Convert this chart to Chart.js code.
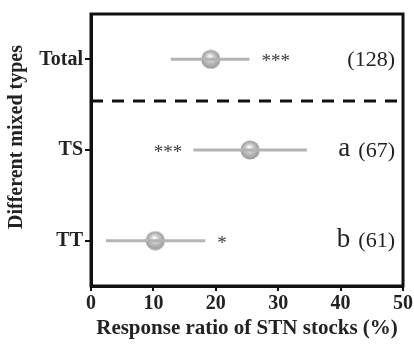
<!DOCTYPE html>
<html>
<head>
<meta charset="utf-8">
<script src="https://cdn.jsdelivr.net/npm/chart.js@4"></script>
<style>
  html, body { margin: 0; padding: 0; background: #fff; }
  #wrap { width: 414px; height: 344px; }
</style>
</head>
<body>
<div id="wrap"><canvas id="forest"></canvas></div>
<script>
    "use strict";

    // Data
    var groups = ["Total", "TS", "TT"];
    var means = [19.2, 25.5, 10.3];
    var lower = [12.8, 16.4, 2.4];
    var upper = [25.4, 34.6, 18.3];
    var sigMarks = ["***", "***", "*"];
    var sigSide = ["right", "left", "right"];
    var letters = ["", "a", "b"];
    var counts = ["(128)", "(67)", "(61)"];
    var xTicks = [0, 10, 20, 30, 40, 50];
    var dividerAt = 1.46;

    var serif = "'Liberation Serif', 'Times New Roman', serif";

    // Gray sphere marker
    var sphere = document.createElement("canvas");
    sphere.width = 20;
    sphere.height = 20;
    (function () {
        var c = sphere.getContext("2d");
        var g = c.createRadialGradient(9, 7, 0.5, 10, 10, 10);
        g.addColorStop(0, "#ffffff");
        g.addColorStop(0.3, "#d4d4d4");
        g.addColorStop(0.75, "#a9a9a9");
        g.addColorStop(1, "#999999");
        c.fillStyle = g;
        c.beginPath();
        c.arc(10, 10, 9.6, 0, Math.PI * 2);
        c.fill();
    })();

    var datasets = [];

    // Divider between total and groups
    datasets.push({
        type: "line",
        data: [{ x: 0, y: dividerAt }, { x: 50, y: dividerAt }],
        borderColor: "#111",
        borderWidth: 3,
        borderDash: [12, 9],
        pointRadius: 0
    });

    // Confidence intervals
    groups.forEach(function (name, i) {
        datasets.push({
            type: "line",
            data: [{ x: lower[i], y: i + 1 }, { x: upper[i], y: i + 1 }],
            borderColor: "#b3b3b3",
            borderWidth: 3,
            pointRadius: 0
        });
    });

    // Means
    datasets.push({
        type: "scatter",
        data: means.map(function (m, i) { return { x: m, y: i + 1 }; }),
        pointStyle: sphere,
        pointRadius: 10
    });

    // Frame, y title and text annotations
    var annotate = {
        id: "annotate",
        afterDatasetsDraw: function (chart) {
            var ctx = chart.ctx;
            var a = chart.chartArea;
            var xs = chart.scales.x;
            var ys = chart.scales.y;
            ctx.save();
            ctx.strokeStyle = "#111";
            ctx.lineWidth = 3;
            ctx.strokeRect(a.left, a.top, a.right - a.left, a.bottom - a.top);

            // y axis title
            ctx.save();
            ctx.translate(17, 137);
            ctx.rotate(-Math.PI / 2);
            ctx.fillStyle = "#222";
            ctx.font = "bold 20px " + serif;
            ctx.textAlign = "center";
            ctx.textBaseline = "middle";
            ctx.fillText("Different mixed types", 0, 0);
            ctx.restore();

            ctx.textBaseline = "middle";
            groups.forEach(function (name, i) {
                var y = ys.getPixelForValue(i + 1);
                ctx.fillStyle = "#3a3a3a";
                ctx.font = "19px " + serif;
                if (sigSide[i] === "right") {
                    ctx.textAlign = "left";
                    ctx.fillText(sigMarks[i], xs.getPixelForValue(upper[i]) + 12, y + 3);
                } else {
                    ctx.textAlign = "right";
                    ctx.fillText(sigMarks[i], xs.getPixelForValue(lower[i]) - 11, y + 3);
                }
                ctx.fillStyle = "#222";
                ctx.textAlign = "right";
                ctx.font = "22px " + serif;
                var right = a.right - 8;
                ctx.fillText(counts[i], right, y + 1);
                if (letters[i]) {
                    var w = ctx.measureText(counts[i]).width;
                    ctx.font = "27px " + serif;
                    ctx.fillText(letters[i], right - w - 8, y - 1);
                }
            });
            ctx.restore();
        }
    };

    new Chart(document.getElementById("forest"), {
        data: { datasets: datasets },
        options: {
            responsive: true,
            maintainAspectRatio: false,
            animation: false,
            layout: { padding: { top: 9, right: 9, left: 0, bottom: 0 } },
            plugins: { legend: { display: false }, tooltip: { enabled: false } },
            scales: {
                x: {
                    type: "linear",
                    min: 0,
                    max: 50,
                    afterFit: function (scale) { scale.height = 58; },
                    afterBuildTicks: function (scale) {
                        scale.ticks = xTicks.map(function (v) { return { value: v }; });
                    },
                    border: { display: true, width: 3, color: "#111" },
                    grid: { drawOnChartArea: false, drawTicks: true, tickLength: 5, color: "#111", lineWidth: 2 },
                    ticks: { color: "#222", padding: 1, font: { family: serif, size: 20, weight: "bold" } },
                    title: {
                        display: true,
                        text: "Response ratio of STN stocks (%)",
                        color: "#222",
                        padding: { top: 0, bottom: 3 },
                        font: { family: serif, size: 21, weight: "bold" }
                    }
                },
                y: {
                    type: "linear",
                    min: 0.5,
                    max: 3.5,
                    reverse: true,
                    afterFit: function (scale) { scale.width = 91; },
                    afterBuildTicks: function (scale) {
                        scale.ticks = groups.map(function (g, i) { return { value: i + 1 }; });
                    },
                    border: { display: true, width: 3, color: "#111" },
                    grid: { drawOnChartArea: false, drawTicks: true, tickLength: 6, color: "#111", lineWidth: 2 },
                    ticks: {
                        color: "#222",
                        padding: 2,
                        font: { family: serif, size: 20, weight: "bold" },
                        callback: function (v) { return groups[v - 1]; }
                    }
                }
            }
        },
        plugins: [annotate]
    });
</script>
</body>
</html>
